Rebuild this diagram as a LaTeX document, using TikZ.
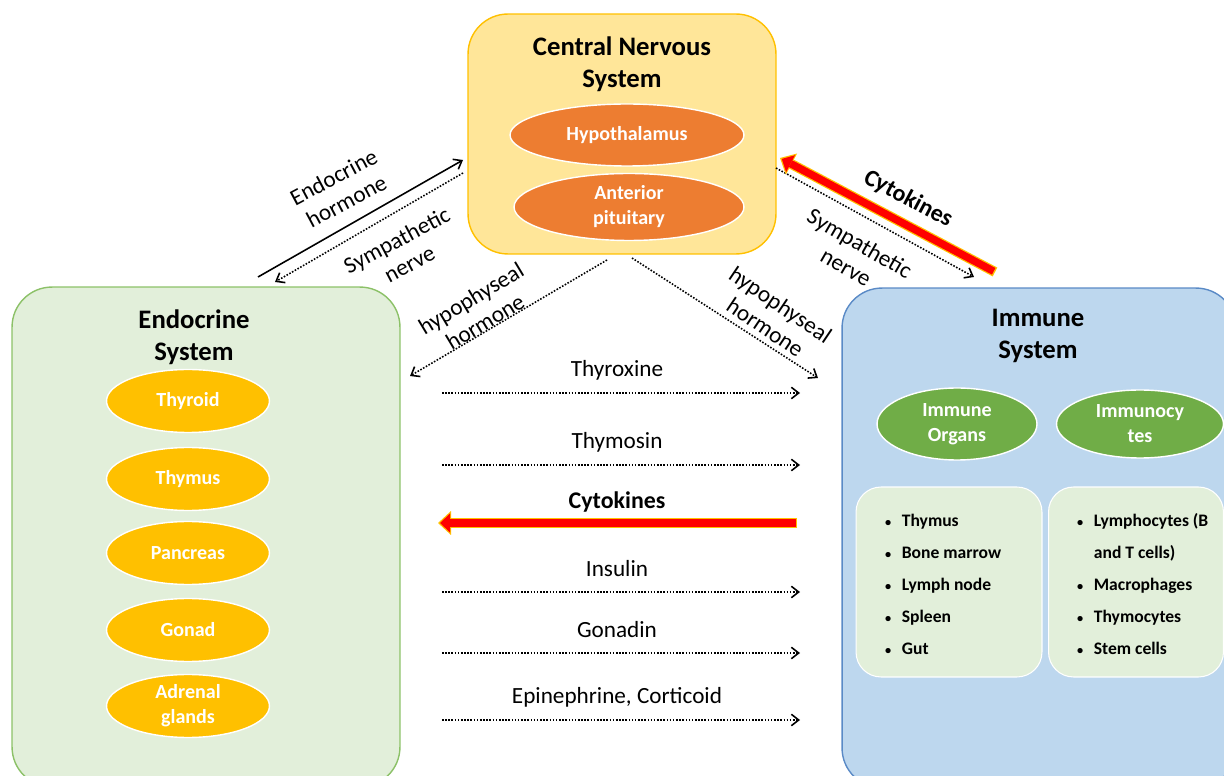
\documentclass[tikz,border=0pt]{standalone}
\usepackage{fontspec}
\setmainfont{Carlito}
\usetikzlibrary{arrows.meta,shapes.geometric}
\definecolor{cnsfill}{HTML}{FFE699}
\definecolor{cnsline}{HTML}{FFC000}
\definecolor{cnsoval}{HTML}{ED7D31}
\definecolor{endofill}{HTML}{E2EFDA}
\definecolor{endoline}{HTML}{8CC168}
\definecolor{endooval}{HTML}{FFC000}
\definecolor{immfill}{HTML}{BDD7EE}
\definecolor{immline}{HTML}{5A8AC6}
\definecolor{immoval}{HTML}{70AD47}
\definecolor{listfill}{HTML}{E2EFDA}
\definecolor{cytored}{HTML}{FF0000}
\definecolor{cytogold}{HTML}{FFC000}
\newcommand\itemdot{{\fontsize{7}{7}\selectfont\textbullet}\hspace{6pt}}
\begin{document}
\begin{tikzpicture}[x=0.02cm,y=-0.02cm,
  font=\fontsize{13.2}{15.5}\selectfont,
  sysbox/.style={draw,line width=0.8pt,rounded corners=0.8cm},
  systitle/.style={align=center,font=\fontsize{15.2}{18.2}\selectfont\bfseries},
  oval/.style={ellipse,draw=white,line width=0.8pt,text=white,inner sep=0pt,align=center,font=\fontsize{11.4}{14.2}\selectfont\bfseries},
  listbox/.style={draw=white,fill=listfill,line width=0.6pt,rounded corners=0.5cm},
  listtext/.style={anchor=west,align=left,font=\fontsize{10}{18.2}\selectfont\bfseries},
  signal/.style={line width=0.9pt,dash pattern=on 0.9pt off 0.9pt,-{Straight Barb[length=4.2pt,width=6.5pt]}},
  hormone/.style={line width=0.9pt,-{Straight Barb[length=4.2pt,width=6.5pt]}},
  cytoout/.style={line width=0.2cm,cytogold,-{Triangle[length=0.26cm,width=0.48cm,line width=0pt]}},
  cytoin/.style={line width=0.15cm,cytored,shorten <=0.03cm,shorten >=0.04cm,-{Triangle[length=0.2cm,width=0.38cm,line width=0pt]}}]
\useasboundingbox (0,0) rectangle (1224,776);
\clip (0,0) rectangle (1224,776);
% central nervous system
\node[sysbox,draw=cnsline,fill=cnsfill,minimum width=6.16cm,minimum height=4.8cm] (cns) at (622,134) {};
\node[systitle] (cnstitle) at (622,64) {Central Nervous\\System};
\node[oval,fill=cnsoval,minimum width=4.68cm,minimum height=1.24cm] (hypo) at (627,135) {Hypothalamus};
\node[oval,fill=cnsoval,minimum width=4.6cm,minimum height=1.34cm] (pit) at (629,207) {Anterior\\pituitary};
% endocrine system
\node[sysbox,draw=endoline,fill=endofill,minimum width=7.76cm,minimum height=10cm] (endo) at (206,537) {};
\node[systitle] (endotitle) at (194,337) {Endocrine\\System};
\foreach \y/\n/\t in {401/thyroid/Thyroid,479/thymus/Thymus,553/pancreas/Pancreas,630/gonad/Gonad,706/adrenal/{Adrenal\\glands}}
  \node[oval,fill=endooval,minimum width=3.26cm,minimum height=1.26cm] (\n) at (188,\y) {\t};
% immune system
\node[sysbox,draw=immline,fill=immfill,minimum width=7.88cm,minimum height=10cm] (imm) at (1039,538) {};
\node[systitle] (immtitle) at (1038,336) {Immune\\System};
\node[oval,fill=immoval,minimum width=3.2cm,minimum height=1.44cm] (organs) at (957,424) {Immune\\Organs};
\node[oval,fill=immoval,minimum width=3.34cm,minimum height=1.36cm] (cytes) at (1140,424) {Immunocy\\tes};
\node[listbox,minimum width=3.72cm,minimum height=3.8cm] (organlist) at (949,582) {};
\node[listbox,minimum width=3.5cm,minimum height=3.8cm] (cytelist) at (1136,582) {};
\node[listtext] (organitems) at (879,584) {\itemdot Thymus\\\itemdot Bone marrow\\\itemdot Lymph node\\\itemdot Spleen\\\itemdot Gut};
\node[listtext] (cyteitems) at (1071,584) {\itemdot Lymphocytes (B\\\phantom{\itemdot}and T cells)\\\itemdot Macrophages\\\itemdot Thymocytes\\\itemdot Stem cells};
% cns <-> endocrine
\coordinate (ehA) at (258,277); \coordinate (ehB) at (463,160);
\coordinate (snA) at (463,173); \coordinate (snB) at (275,282);
\draw[hormone] (ehA) -- (ehB);
\draw[signal] (snA) -- (snB);
\node[rotate=28,align=center] (ehlbl) at (340,189) {Endocrine\\hormone};
\node[rotate=28,align=center] (snlbl) at (403,252) {Sympathetic\\nerve};
% hypophyseal hormones
\coordinate (hlA) at (607,260); \coordinate (hlB) at (410,376);
\coordinate (hrA) at (632,258); \coordinate (hrB) at (818,378);
\draw[signal] (hlA) -- (hlB);
\draw[signal] (hrA) -- (hrB);
\node[rotate=31,align=center] (hllbl) at (478,310) {hypophyseal\\hormone};
\node[rotate=-34,align=center] (hrlbl) at (773,316) {hypophyseal\\hormone};
% cns <-> immune
\coordinate (srA) at (776,168); \coordinate (srB) at (974,277);
\draw[signal] (srA) -- (srB);
\node[rotate=-30,align=center] (srlbl) at (853,255) {Sympathetic\\nerve};
\coordinate (ckA) at (995,272); \coordinate (ckB) at (780,158);
\draw[cytoout] (ckA) -- (ckB);
\draw[cytoin] (ckA) -- (ckB);
\node[rotate=-28,font=\fontsize{13.6}{15}\selectfont\bfseries] (cklbl) at (908,199) {Cytokines};
% endocrine <-> immune
\foreach \y/\t in {393/Thyroxine,465/Thymosin,592/Insulin,653/Gonadin,720/{Epinephrine, Corticoid}}
  {\coordinate (s\y) at (442,\y); \coordinate (t\y) at (800,\y);
   \draw[signal] (s\y) -- (t\y); \node (l\y) at (617,\y-23) {\t};}
\coordinate (ceA) at (797,523); \coordinate (ceB) at (438,523);
\draw[cytoout] (ceA) -- (ceB);
\draw[cytoin] (ceA) -- (ceB);
\node[font=\fontsize{13.6}{15}\selectfont\bfseries] (celbl) at (617,502) {Cytokines};
\end{tikzpicture}
\end{document}
